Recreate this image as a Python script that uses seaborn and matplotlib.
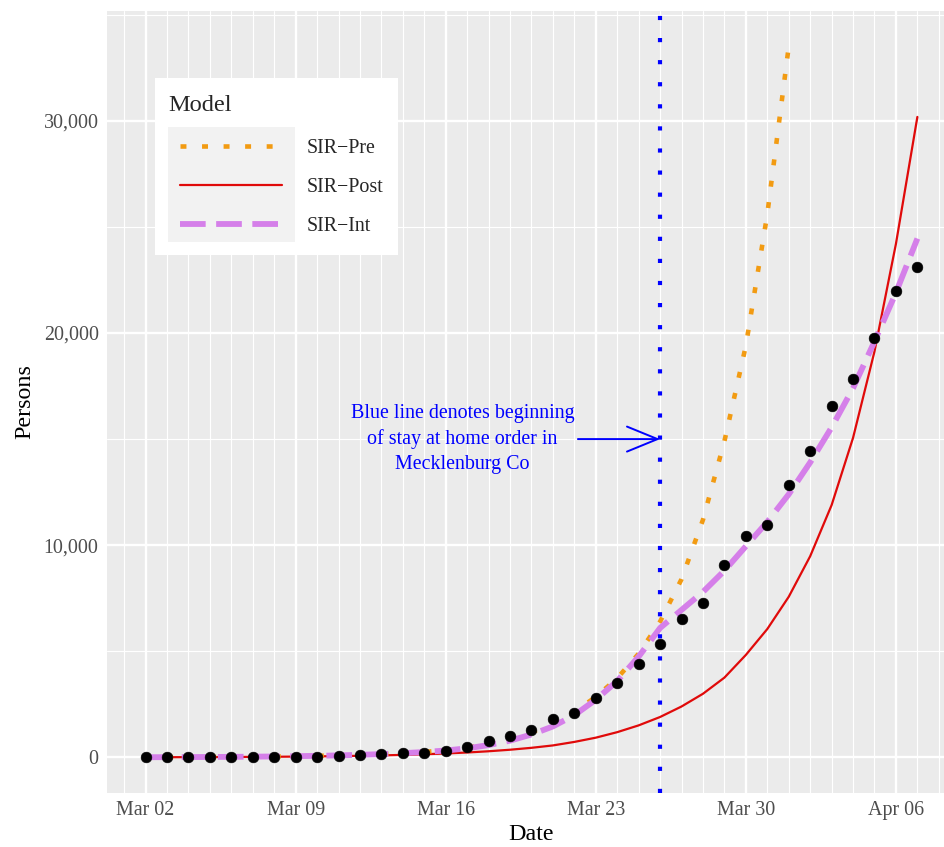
import pandas as pd
import matplotlib.pyplot as plt
import matplotlib.dates as mdates
import seaborn as sns
from matplotlib.lines import Line2D
from matplotlib.patches import Rectangle
from matplotlib.ticker import MultipleLocator, FuncFormatter

# daily dates, Mar 02 -> Apr 07 2020
dates = pd.date_range("2020-03-02", "2020-04-07", freq="D")

# observed counts (black points)
cases = [0, 0, 0, 0, 0, 0, 15, 30, 35, 60, 95, 160, 200, 225, 300,
         470, 785, 1005, 1300, 1820, 2070, 2800, 3500, 4410, 5330,
         6530, 7270, 9090, 10440, 10970, 12850, 14430, 16540, 17810,
         19740, 22000, 23090]

# model curves
sir_pre = [9, 12, 16, 21, 27, 35, 45, 58, 74, 95, 122, 156, 200, 258, 335,
           460, 630, 860, 1180, 1600, 2150, 2850, 3730, 4890, 6400, 8400,
           11200, 14900, 19400, 25600, 33500]
sir_post = [8, 10, 13, 16, 20, 25, 31, 39, 49, 61, 76, 95, 119, 149, 186,
            232, 290, 362, 452, 565, 730, 930, 1190, 1510, 1905, 2400,
            3000, 3760, 4830, 6050, 7570, 9480, 11890, 15060, 19130, 24200,
            30180]
sir_int = [9, 12, 16, 21, 27, 35, 45, 58, 74, 95, 122, 156, 200, 255, 325,
           430, 580, 790, 1080, 1460, 1990, 2720, 3600, 4750, 6100, 6950,
           7800, 8800, 9950, 11100, 12400, 13900, 15550, 17400, 19600,
           21900, 24450]

model_names = ["SIR\u2212Pre", "SIR\u2212Post", "SIR\u2212Int"]
stay_home = pd.Timestamp("2020-03-26")

sns.set_style("darkgrid", {"axes.facecolor": "#EBEBEB", "grid.color": "white"})
plt.rcParams["font.family"] = ["Liberation Serif", "DejaVu Serif"]

fig = plt.figure(figsize=(9.45, 8.47), dpi=100)
ax = fig.add_axes([0.1132, 0.0638, 0.8984, 0.9233])

styles = {
    "SIR\u2212Post": dict(color="#E00A0A", linewidth=1.6, linestyle="-", zorder=3),
    "SIR\u2212Pre": dict(color="#F29B12", linewidth=3.3, linestyle=(0, (1.3, 3.4)), zorder=3.5),
    "SIR\u2212Int": dict(color="#D57FE9", linewidth=4.2, linestyle=(0, (4.4, 1.8)), zorder=4),
}
series = {"SIR\u2212Pre": sir_pre, "SIR\u2212Post": sir_post, "SIR\u2212Int": sir_int}

for name in ["SIR\u2212Post", "SIR\u2212Pre", "SIR\u2212Int"]:
    vals = series[name]
    sns.lineplot(x=dates[:len(vals)], y=vals, ax=ax, legend=False, **styles[name])

sns.scatterplot(x=dates, y=cases, ax=ax, color="black", s=60,
                edgecolor="black", linewidth=0.4, zorder=6, legend=False)

ax.axvline(stay_home, color="#0000FF", linewidth=3.0,
           linestyle=(0, (1.0, 4.3)), zorder=7)

# annotation + arrow
ax.annotate("", xy=(mdates.date2num(stay_home), 15000),
            xytext=(mdates.date2num(pd.Timestamp("2020-03-22 04:00")), 15000),
            arrowprops=dict(arrowstyle="->,head_length=1.1,head_width=0.45",
                            mutation_scale=20, color="#0000FF", lw=1.4,
                            shrinkA=0, shrinkB=0), zorder=7)
ax.text(mdates.date2num(pd.Timestamp("2020-03-16 19:00")), 15000,
        "Blue line denotes beginning\nof stay at home order in\nMecklenburg Co",
        ha="center", va="center", color="#0000FF", fontsize=14.4,
        linespacing=1.42, zorder=7)

# axes limits with ggplot-like 5% expansion
pad = pd.Timedelta(days=1.8)
ax.set_xlim(dates[0] - pad, dates[-1] + pad)
ymax = max(sir_pre)
ax.set_ylim(-0.05 * ymax, 1.05 * ymax)

ax.xaxis.set_major_locator(mdates.WeekdayLocator(byweekday=mdates.MO))
ax.xaxis.set_minor_locator(mdates.DayLocator())
ax.xaxis.set_major_formatter(mdates.DateFormatter("%b %d"))
ax.yaxis.set_major_locator(MultipleLocator(10000))
ax.yaxis.set_minor_locator(MultipleLocator(5000))
ax.yaxis.set_major_formatter(FuncFormatter(lambda v, p: f"{int(v):,}"))

ax.grid(which="major", color="white", linewidth=1.7)
ax.grid(which="minor", color="white", linewidth=0.8)
for s in ax.spines.values():
    s.set_visible(False)

ax.tick_params(which="major", length=4, width=1.1, color="#333333",
               labelcolor="#4D4D4D", labelsize=14.4, pad=2)
ax.tick_params(which="minor", length=0)
ax.set_xlabel("Date", fontsize=17.3, color="black", labelpad=3)
ax.set_ylabel("Persons", fontsize=17.3, color="black", labelpad=6)

# legend box (white panel + grey key area)
ax.add_patch(Rectangle((0.0565, 0.688), 0.2863, 0.2263, transform=ax.transAxes,
                       facecolor="white", edgecolor="none", zorder=8))
ax.add_patch(Rectangle((0.0718, 0.7046), 0.1496, 0.1471, transform=ax.transAxes,
                       facecolor="#F2F2F2", edgecolor="none", zorder=8.5))
ax.text(0.0718, 0.8786, "Model", transform=ax.transAxes, fontsize=17.6,
        ha="left", va="center", zorder=9)

handles = [Line2D([], [], **{k: v for k, v in styles[n].items() if k != "zorder"})
           for n in model_names]
leg = ax.legend(handles, model_names, loc="upper left",
                bbox_to_anchor=(0.086, 0.8363), frameon=False, fontsize=14.4,
                handlelength=5.1, handletextpad=1.25, labelspacing=1.0,
                borderaxespad=0, borderpad=0)
leg.set_zorder(9)

fig.savefig("out.png", dpi=100)
